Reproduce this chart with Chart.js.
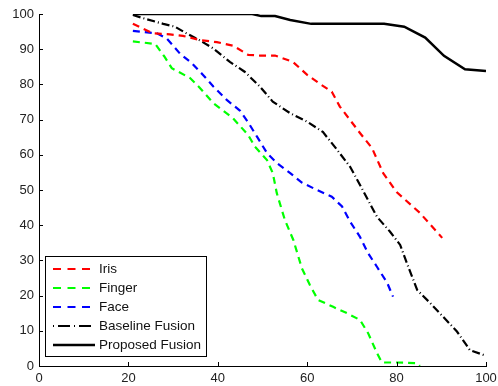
<!DOCTYPE html>
<html>
<head>
<meta charset="utf-8">
<script src="https://cdn.jsdelivr.net/npm/chart.js@4/dist/chart.umd.min.js"></script>
<style>
  body { margin: 0; background: #fff; }
  #wrap { width: 498px; height: 386px; }
</style>
</head>
<body>
<div id="wrap"><canvas id="chart"></canvas></div>
<script>
// values
const irisX = [21, 25.5, 29.3, 32.2, 36, 39.8, 43.4, 46.8, 49.4, 52.8, 56.8, 60, 62.9, 65.5, 67.3, 71.8, 74.5, 77, 80, 85.2, 90.2];
const irisY = [97.2, 94.5, 94.2, 93.8, 92.6, 92, 91, 88.4, 88.2, 88.2, 86.4, 82.7, 80.1, 77.9, 73.7, 66.2, 61.9, 54.8, 49.4, 43.5, 36.4];

const fingerX = [21, 26, 28, 29.7, 33.8, 36, 39, 43.4, 46.8, 48.3, 51, 52.3, 53.2, 55, 56.9, 58.8, 60.6, 62.4, 65.8, 68.9, 71.8, 73.6, 75.6, 76.7, 80, 84.6, 85.2];
const fingerY = [92.2, 91.5, 88, 84.6, 81.8, 79, 74.7, 70.4, 65.6, 62.3, 58.5, 54.8, 49.1, 41.5, 35.8, 27.8, 23, 18.8, 16.8, 15, 13.1, 9.4, 3.7, 1, 1, 0.8, 0];

const faceX = [21, 26.4, 28.6, 31.5, 34.2, 36.7, 39, 42, 45, 46.8, 48.8, 51, 53.2, 56.2, 58.8, 62.2, 65.5, 67.8, 69.6, 71.8, 73.6, 75.6, 77.9, 79.2];
const faceY = [95.2, 94.5, 93, 88.8, 86, 82.7, 79.4, 75.6, 72.5, 69.2, 65.1, 60.5, 57.7, 54.8, 52.1, 50, 48.1, 45.3, 41, 36.7, 32.1, 28.2, 23.6, 19.7];

const baselineX = [21, 23.3, 27.8, 30.4, 33, 36, 39, 42.7, 46, 49.4, 52.3, 56.2, 60, 63.5, 66.7, 69.6, 72, 75.6, 78.5, 80.8, 82.3, 84.6, 87.5, 90.4, 93.5, 96.4, 100];
const baselineY = [99.7, 98.8, 97.2, 96.4, 94.5, 92.5, 90.2, 86.4, 83.6, 79.4, 75.1, 71.8, 69.4, 66.5, 61.4, 56.6, 51, 42.4, 38.2, 34.4, 29.2, 21.6, 17.9, 14, 9.8, 4.5, 2.9];

const proposedX = [21, 47.7, 49.7, 52.8, 56.2, 60.9, 77.2, 81.7, 86.4, 90.6, 95.3, 100];
const proposedY = [100, 100, 99.4, 99.4, 98.3, 97.2, 97.2, 96.4, 93.3, 88.1, 84.3, 83.8];

const seriesNames = ["Iris", "Finger", "Face", "Baseline Fusion", "Proposed Fusion"];

function toPoints(xs, ys) {
  return xs.map((x, i) => ({ x: x, y: ys[i] }));
}

const FONT = "'Liberation Sans', Arial, Helvetica, sans-serif";

// inward tick marks like the original plot
const inwardTicks = {
  id: "inwardTicks",
  afterDraw(chart) {
    const ctx = chart.ctx;
    const xs = chart.scales.x, ys = chart.scales.y;
    const area = chart.chartArea;
    ctx.save();
    ctx.strokeStyle = "#000";
    ctx.lineWidth = 1;
    ctx.beginPath();
    xs.ticks.forEach(t => {
      const px = Math.round(xs.getPixelForValue(t.value)) + 0.5;
      ctx.moveTo(px, area.bottom);
      ctx.lineTo(px, area.bottom - 4);
    });
    ys.ticks.forEach(t => {
      const py = Math.round(ys.getPixelForValue(t.value)) + 0.5;
      ctx.moveTo(area.left, py);
      ctx.lineTo(area.left + 4, py);
    });
    ctx.stroke();
    ctx.restore();
  }
};

// legend box inside the lower-left of the plot
const boxLegend = {
  id: "boxLegend",
  afterDraw(chart) {
    const ctx = chart.ctx;
    const left = 45.5, top = 256.5, w = 161, h = 100;
    ctx.save();
    ctx.fillStyle = "#fff";
    ctx.fillRect(left, top, w, h);
    ctx.strokeStyle = "#000";
    ctx.lineWidth = 1;
    ctx.strokeRect(left, top, w, h);
    ctx.font = "13.5px " + FONT;
    ctx.textBaseline = "middle";
    chart.data.datasets.forEach((ds, i) => {
      const y = 269 + i * 19;
      ctx.strokeStyle = ds.borderColor;
      ctx.lineWidth = ds.borderWidth;
      ctx.setLineDash(ds.legendDash || []);
      ctx.beginPath();
      ctx.moveTo(53, y);
      ctx.lineTo(95, y);
      ctx.stroke();
      ctx.setLineDash([]);
      ctx.fillStyle = "#111";
      ctx.fillText(ds.label, 99, y + 0.5);
    });
    ctx.restore();
  }
};

new Chart(document.getElementById("chart"), {
  type: "scatter",
  data: {
    datasets: [
      { label: seriesNames[0], data: toPoints(irisX, irisY), borderColor: "#ff0000", borderWidth: 2.2, borderDash: [7, 5], legendDash: [8, 6.5] },
      { label: seriesNames[1], data: toPoints(fingerX, fingerY), borderColor: "#00ff00", borderWidth: 2.2, borderDash: [7, 5], legendDash: [8, 6.5] },
      { label: seriesNames[2], data: toPoints(faceX, faceY), borderColor: "#0000ff", borderWidth: 2.2, borderDash: [7, 5], legendDash: [8, 6.5] },
      { label: seriesNames[3], data: toPoints(baselineX, baselineY), borderColor: "#000000", borderWidth: 2.2, borderDash: [8, 3, 1, 3], legendDash: [1, 4, 12, 4] },
      { label: seriesNames[4], data: toPoints(proposedX, proposedY), borderColor: "#000000", borderWidth: 2.5 }
    ]
  },
  options: {
    responsive: true,
    maintainAspectRatio: false,
    animation: false,
    showLine: true,
    elements: {
      point: { radius: 0, hoverRadius: 0 },
      line: { tension: 0, fill: false }
    },
    layout: { padding: { top: 14, right: 0, left: 0, bottom: 0 } },
    plugins: {
      legend: { display: false },
      tooltip: { enabled: false }
    },
    scales: {
      x: {
        type: "linear", min: 0, max: 100,
        ticks: { stepSize: 20, padding: 5, color: "#222", font: { family: FONT, size: 13 } },
        grid: { display: true, drawOnChartArea: false, drawTicks: false },
        border: { display: true, color: "#000", width: 1 },
        afterFit(scale) {
          scale.height = 20;
          scale.paddingLeft = 0;
          scale.paddingRight = 12;
        }
      },
      y: {
        type: "linear", min: 0, max: 100,
        ticks: { stepSize: 10, padding: 5, color: "#222", font: { family: FONT, size: 13 } },
        grid: { display: true, drawOnChartArea: false, drawTicks: false },
        border: { display: true, color: "#000", width: 1 },
        afterFit(scale) { scale.width = 39; }
      }
    }
  },
  plugins: [inwardTicks, boxLegend]
});
</script>
</body>
</html>
